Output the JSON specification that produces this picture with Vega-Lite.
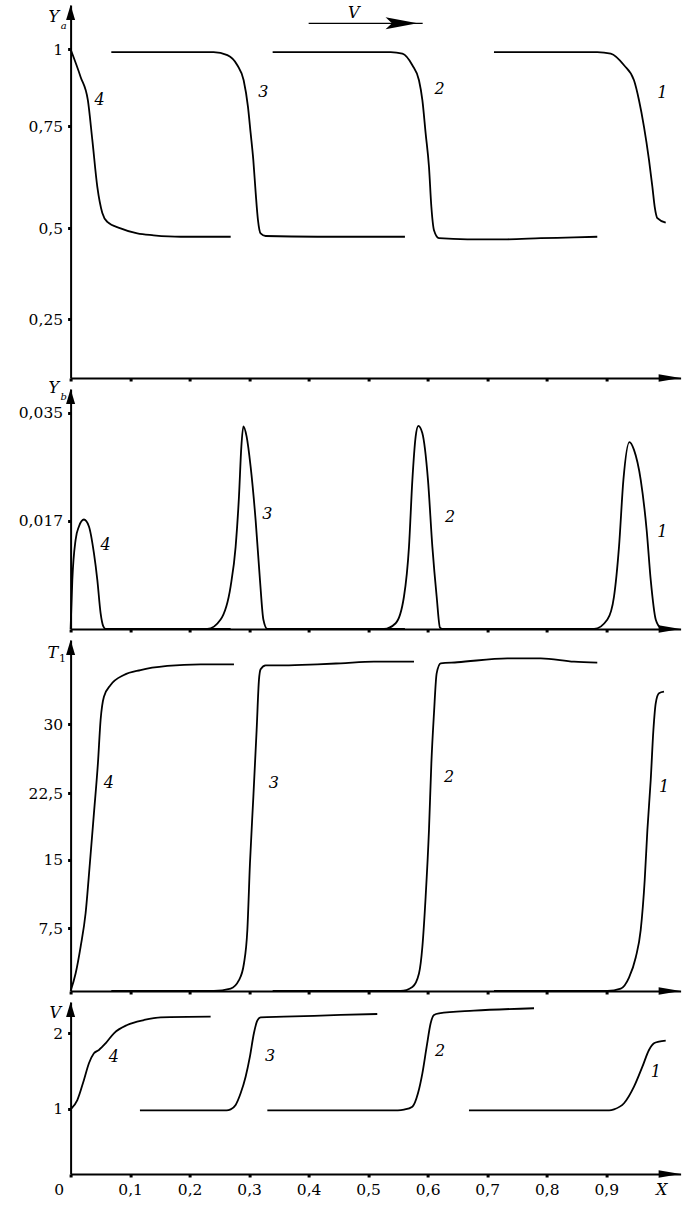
{
  "$schema": "https://vega.github.io/schema/vega-lite/v6.json",
  "background": "white",
  "autosize": {"type": "pad"},
  "padding": {"left": 17.6, "top": 5, "right": 7, "bottom": 9},
  "spacing": 11,
  "bounds": "flush",
  "config": {
    "view": {"stroke": null},
    "axis": {
      "domainColor": "black", "domainWidth": 2, "tickColor": "black", "tickWidth": 3, "tickSize": 3,
      "labelFont": "DejaVu Serif", "labelFontSize": 15.5, "labelColor": "black", "labelPadding": 5,
      "labelOverlap": false, "labelFlush": false, "labelBound": false, "grid": false,
      "titleFont": "DejaVu Serif", "titleFontStyle": "italic", "titleFontWeight": "normal", "titleFontSize": 16, "titleColor": "black"
    },
    "line": {"color": "black", "strokeWidth": 1.8, "interpolate": "monotone"}
  },
  "datasets": {
    "ya": [
      {"curve": "4", "x": 0, "y": 1.0}, {"curve": "4", "x": 0.0168, "y": 0.91}, {"curve": "4", "x": 0.029, "y": 0.834}, {"curve": "4", "x": 0.0365, "y": 0.716}, {"curve": "4", "x": 0.0449, "y": 0.601}, {"curve": "4", "x": 0.0533, "y": 0.537}, {"curve": "4", "x": 0.0617, "y": 0.515}, {"curve": "4", "x": 0.084, "y": 0.499}, {"curve": "4", "x": 0.112, "y": 0.485}, {"curve": "4", "x": 0.1395, "y": 0.48}, {"curve": "4", "x": 0.185, "y": 0.476}, {"curve": "4", "x": 0.269, "y": 0.476},
      {"curve": "3", "x": 0.0684, "y": 0.991}, {"curve": "3", "x": 0.2403, "y": 0.991}, {"curve": "3", "x": 0.2634, "y": 0.981}, {"curve": "3", "x": 0.2802, "y": 0.948}, {"curve": "3", "x": 0.2908, "y": 0.899}, {"curve": "3", "x": 0.298, "y": 0.813}, {"curve": "3", "x": 0.3025, "y": 0.733}, {"curve": "3", "x": 0.307, "y": 0.667}, {"curve": "3", "x": 0.311, "y": 0.586}, {"curve": "3", "x": 0.3148, "y": 0.52}, {"curve": "3", "x": 0.3193, "y": 0.485}, {"curve": "3", "x": 0.3277, "y": 0.478}, {"curve": "3", "x": 0.4146, "y": 0.476}, {"curve": "3", "x": 0.5618, "y": 0.476},
      {"curve": "2", "x": 0.3395, "y": 0.991}, {"curve": "2", "x": 0.5378, "y": 0.991}, {"curve": "2", "x": 0.5575, "y": 0.986}, {"curve": "2", "x": 0.5743, "y": 0.948}, {"curve": "2", "x": 0.5854, "y": 0.899}, {"curve": "2", "x": 0.5911, "y": 0.834}, {"curve": "2", "x": 0.5966, "y": 0.732}, {"curve": "2", "x": 0.6022, "y": 0.65}, {"curve": "2", "x": 0.6062, "y": 0.552}, {"curve": "2", "x": 0.6106, "y": 0.494}, {"curve": "2", "x": 0.619, "y": 0.472}, {"curve": "2", "x": 0.6666, "y": 0.469}, {"curve": "2", "x": 0.7339, "y": 0.469}, {"curve": "2", "x": 0.79, "y": 0.472}, {"curve": "2", "x": 0.846, "y": 0.474}, {"curve": "2", "x": 0.885, "y": 0.476},
      {"curve": "1", "x": 0.7114, "y": 0.991}, {"curve": "1", "x": 0.885, "y": 0.991}, {"curve": "1", "x": 0.9076, "y": 0.986}, {"curve": "1", "x": 0.93, "y": 0.948}, {"curve": "1", "x": 0.9467, "y": 0.899}, {"curve": "1", "x": 0.9551, "y": 0.834}, {"curve": "1", "x": 0.9635, "y": 0.748}, {"curve": "1", "x": 0.9719, "y": 0.667}, {"curve": "1", "x": 0.9776, "y": 0.601}, {"curve": "1", "x": 0.9815, "y": 0.552}, {"curve": "1", "x": 0.986, "y": 0.524}, {"curve": "1", "x": 1.0, "y": 0.513}
    ],
    "yb": [
      {"curve": "4", "x": 0, "y": 0}, {"curve": "4", "x": 0.0029, "y": 0.0077}, {"curve": "4", "x": 0.0084, "y": 0.014}, {"curve": "4", "x": 0.014, "y": 0.0161}, {"curve": "4", "x": 0.0224, "y": 0.0172}, {"curve": "4", "x": 0.0308, "y": 0.0161}, {"curve": "4", "x": 0.0392, "y": 0.0119}, {"curve": "4", "x": 0.0449, "y": 0.0077}, {"curve": "4", "x": 0.0504, "y": 0.0025}, {"curve": "4", "x": 0.055, "y": 0.0004}, {"curve": "4", "x": 0.0588, "y": 0}, {"curve": "4", "x": 0.269, "y": 0},
      {"curve": "3", "x": 0.0684, "y": 0}, {"curve": "3", "x": 0.2297, "y": 0}, {"curve": "3", "x": 0.2521, "y": 0.0015}, {"curve": "3", "x": 0.2689, "y": 0.0067}, {"curve": "3", "x": 0.2773, "y": 0.0129}, {"curve": "3", "x": 0.2829, "y": 0.021}, {"curve": "3", "x": 0.2869, "y": 0.0293}, {"curve": "3", "x": 0.2903, "y": 0.0327}, {"curve": "3", "x": 0.2958, "y": 0.031}, {"curve": "3", "x": 0.3025, "y": 0.026}, {"curve": "3", "x": 0.3109, "y": 0.0171}, {"curve": "3", "x": 0.3182, "y": 0.0077}, {"curve": "3", "x": 0.3239, "y": 0.0015}, {"curve": "3", "x": 0.3306, "y": 0}, {"curve": "3", "x": 0.5618, "y": 0},
      {"curve": "2", "x": 0.3395, "y": 0}, {"curve": "2", "x": 0.5266, "y": 0}, {"curve": "2", "x": 0.5462, "y": 0.0009}, {"curve": "2", "x": 0.5602, "y": 0.0051}, {"curve": "2", "x": 0.5686, "y": 0.0129}, {"curve": "2", "x": 0.5743, "y": 0.0238}, {"curve": "2", "x": 0.5798, "y": 0.031}, {"curve": "2", "x": 0.5843, "y": 0.0328}, {"curve": "2", "x": 0.591, "y": 0.0316}, {"curve": "2", "x": 0.6005, "y": 0.0238}, {"curve": "2", "x": 0.6079, "y": 0.0129}, {"curve": "2", "x": 0.6151, "y": 0.0051}, {"curve": "2", "x": 0.6207, "y": 0.0002}, {"curve": "2", "x": 0.6246, "y": 0}, {"curve": "2", "x": 0.885, "y": 0},
      {"curve": "1", "x": 0.7114, "y": 0}, {"curve": "1", "x": 0.8795, "y": 0}, {"curve": "1", "x": 0.902, "y": 0.0015}, {"curve": "1", "x": 0.9131, "y": 0.0051}, {"curve": "1", "x": 0.9215, "y": 0.0129}, {"curve": "1", "x": 0.9289, "y": 0.0238}, {"curve": "1", "x": 0.939, "y": 0.0301}, {"curve": "1", "x": 0.9467, "y": 0.0288}, {"curve": "1", "x": 0.958, "y": 0.0238}, {"curve": "1", "x": 0.968, "y": 0.0155}, {"curve": "1", "x": 0.9748, "y": 0.0077}, {"curve": "1", "x": 0.9832, "y": 0.0015}, {"curve": "1", "x": 0.9916, "y": 0.0002}, {"curve": "1", "x": 1.0, "y": 0}
    ],
    "t1": [
      {"curve": "4", "x": 0, "y": 0}, {"curve": "4", "x": 0.0084, "y": 2.09}, {"curve": "4", "x": 0.0168, "y": 5.29}, {"curve": "4", "x": 0.0252, "y": 9.15}, {"curve": "4", "x": 0.0324, "y": 14.64}, {"curve": "4", "x": 0.0392, "y": 20.25}, {"curve": "4", "x": 0.0459, "y": 25.76}, {"curve": "4", "x": 0.0504, "y": 30.47}, {"curve": "4", "x": 0.056, "y": 33.0}, {"curve": "4", "x": 0.0672, "y": 34.27}, {"curve": "4", "x": 0.0896, "y": 35.36}, {"curve": "4", "x": 0.1176, "y": 35.9}, {"curve": "4", "x": 0.1625, "y": 36.34}, {"curve": "4", "x": 0.2185, "y": 36.52}, {"curve": "4", "x": 0.2745, "y": 36.52},
      {"curve": "3", "x": 0.0684, "y": 0}, {"curve": "3", "x": 0.2408, "y": 0}, {"curve": "3", "x": 0.2689, "y": 0.29}, {"curve": "3", "x": 0.2829, "y": 1.29}, {"curve": "3", "x": 0.2913, "y": 3.29}, {"curve": "3", "x": 0.297, "y": 7.3}, {"curve": "3", "x": 0.3014, "y": 14.64}, {"curve": "3", "x": 0.3071, "y": 22.13}, {"curve": "3", "x": 0.3126, "y": 29.38}, {"curve": "3", "x": 0.3165, "y": 34.82}, {"curve": "3", "x": 0.3193, "y": 35.98}, {"curve": "3", "x": 0.3277, "y": 36.41}, {"curve": "3", "x": 0.3585, "y": 36.41}, {"curve": "3", "x": 0.4146, "y": 36.52}, {"curve": "3", "x": 0.4538, "y": 36.63}, {"curve": "3", "x": 0.5097, "y": 36.8}, {"curve": "3", "x": 0.577, "y": 36.8},
      {"curve": "2", "x": 0.3395, "y": 0}, {"curve": "2", "x": 0.5546, "y": 0}, {"curve": "2", "x": 0.5743, "y": 0.48}, {"curve": "2", "x": 0.5854, "y": 2.09}, {"curve": "2", "x": 0.5911, "y": 5.29}, {"curve": "2", "x": 0.5966, "y": 10.97}, {"curve": "2", "x": 0.6022, "y": 18.37}, {"curve": "2", "x": 0.6062, "y": 25.76}, {"curve": "2", "x": 0.6106, "y": 31.2}, {"curve": "2", "x": 0.6151, "y": 35.54}, {"curve": "2", "x": 0.6218, "y": 36.63}, {"curve": "2", "x": 0.6499, "y": 36.74}, {"curve": "2", "x": 0.7339, "y": 37.17}, {"curve": "2", "x": 0.79, "y": 37.17}, {"curve": "2", "x": 0.8459, "y": 36.8}, {"curve": "2", "x": 0.885, "y": 36.7},
      {"curve": "1", "x": 0.7114, "y": 0}, {"curve": "1", "x": 0.902, "y": 0}, {"curve": "1", "x": 0.9244, "y": 0.29}, {"curve": "1", "x": 0.9383, "y": 1.61}, {"curve": "1", "x": 0.9496, "y": 4.01}, {"curve": "1", "x": 0.958, "y": 7.3}, {"curve": "1", "x": 0.9647, "y": 12.8}, {"curve": "1", "x": 0.9692, "y": 18.37}, {"curve": "1", "x": 0.9748, "y": 23.95}, {"curve": "1", "x": 0.9793, "y": 29.38}, {"curve": "1", "x": 0.9832, "y": 32.28}, {"curve": "1", "x": 0.9887, "y": 33.37}, {"curve": "1", "x": 0.9971, "y": 33.54}
    ],
    "v": [
      {"curve": "4", "x": 0.0012, "y": 1.0}, {"curve": "4", "x": 0.0113, "y": 1.115}, {"curve": "4", "x": 0.0224, "y": 1.381}, {"curve": "4", "x": 0.0308, "y": 1.602}, {"curve": "4", "x": 0.0392, "y": 1.735}, {"curve": "4", "x": 0.0476, "y": 1.779}, {"curve": "4", "x": 0.0588, "y": 1.867}, {"curve": "4", "x": 0.0728, "y": 2.0}, {"curve": "4", "x": 0.0951, "y": 2.11}, {"curve": "4", "x": 0.1232, "y": 2.176}, {"curve": "4", "x": 0.1513, "y": 2.212}, {"curve": "4", "x": 0.2353, "y": 2.22},
      {"curve": "3", "x": 0.1165, "y": 0.975}, {"curve": "3", "x": 0.262, "y": 0.975}, {"curve": "3", "x": 0.2689, "y": 0.99}, {"curve": "3", "x": 0.2773, "y": 1.05}, {"curve": "3", "x": 0.2857, "y": 1.204}, {"curve": "3", "x": 0.2941, "y": 1.424}, {"curve": "3", "x": 0.3013, "y": 1.69}, {"curve": "3", "x": 0.308, "y": 2.0}, {"curve": "3", "x": 0.3137, "y": 2.167}, {"curve": "3", "x": 0.3193, "y": 2.212}, {"curve": "3", "x": 0.3585, "y": 2.22}, {"curve": "3", "x": 0.4538, "y": 2.243}, {"curve": "3", "x": 0.5153, "y": 2.256},
      {"curve": "2", "x": 0.3306, "y": 0.975}, {"curve": "2", "x": 0.55, "y": 0.975}, {"curve": "2", "x": 0.5602, "y": 0.985}, {"curve": "2", "x": 0.5743, "y": 1.027}, {"curve": "2", "x": 0.5837, "y": 1.204}, {"curve": "2", "x": 0.5911, "y": 1.469}, {"curve": "2", "x": 0.5983, "y": 1.822}, {"curve": "2", "x": 0.605, "y": 2.133}, {"curve": "2", "x": 0.6106, "y": 2.243}, {"curve": "2", "x": 0.619, "y": 2.265}, {"curve": "2", "x": 0.6776, "y": 2.3}, {"curve": "2", "x": 0.7787, "y": 2.332},
      {"curve": "1", "x": 0.6694, "y": 0.975}, {"curve": "1", "x": 0.905, "y": 0.975}, {"curve": "1", "x": 0.9131, "y": 0.99}, {"curve": "1", "x": 0.9299, "y": 1.072}, {"curve": "1", "x": 0.9467, "y": 1.292}, {"curve": "1", "x": 0.9608, "y": 1.557}, {"curve": "1", "x": 0.9719, "y": 1.778}, {"curve": "1", "x": 0.9803, "y": 1.867}, {"curve": "1", "x": 0.9887, "y": 1.889}, {"curve": "1", "x": 1.0, "y": 1.902}
    ],
    "lab": [
      {"panel": "ya", "label": "4", "x": 0.0487, "y": 0.834}, {"panel": "ya", "label": "3", "x": 0.3237, "y": 0.861}, {"panel": "ya", "label": "2", "x": 0.62, "y": 0.872}, {"panel": "ya", "label": "1", "x": 0.9943, "y": 0.856},
      {"panel": "yb", "label": "4", "x": 0.0588, "y": 0.0132}, {"panel": "yb", "label": "3", "x": 0.3306, "y": 0.0182}, {"panel": "yb", "label": "2", "x": 0.6375, "y": 0.0177}, {"panel": "yb", "label": "1", "x": 0.9943, "y": 0.0153},
      {"panel": "t1", "label": "4", "x": 0.0644, "y": 23.59}, {"panel": "t1", "label": "3", "x": 0.3417, "y": 23.59}, {"panel": "t1", "label": "2", "x": 0.6358, "y": 24.3}, {"panel": "t1", "label": "1", "x": 0.9971, "y": 23.2},
      {"panel": "v", "label": "4", "x": 0.0728, "y": 1.69}, {"panel": "v", "label": "3", "x": 0.335, "y": 1.7}, {"panel": "v", "label": "2", "x": 0.6207, "y": 1.77}, {"panel": "v", "label": "1", "x": 0.9832, "y": 1.49}
    ]
  },
  "vconcat": [
    {
      "width": 610, "height": 373,
      "layer": [
        {
          "data": {"name": "ya"},
          "mark": {"type": "line"},
          "encoding": {
            "x": {"field": "x", "type": "quantitative", "scale": {"domain": [0, 1.025], "nice": false, "zero": false},
                  "axis": {"values": [0, 0.1, 0.2, 0.3, 0.4, 0.5, 0.6, 0.7, 0.8, 0.9], "labels": false, "title": null}},
            "y": {"field": "y", "type": "quantitative",
                  "scale": {"domain": [0, 0.25, 0.5, 0.75, 1, 1.144], "range": [373, 314, 223, 121, 44.3, 0], "nice": false, "zero": false},
                  "axis": {"values": [0.25, 0.5, 0.75, 1], "labelExpr": "replace(toString(datum.value), '.', ',')",
                           "title": "Y", "titleAngle": 0, "titleAlign": "right", "titleBaseline": "alphabetic", "titleX": -12, "titleY": 16}},
            "detail": {"field": "curve"}
          }
        },
        {
          "data": {"name": "lab"},
          "transform": [{"filter": "datum.panel == 'ya'"}],
          "mark": {"type": "text", "font": "DejaVu Serif", "fontStyle": "italic", "fontSize": 16, "color": "black", "align": "center", "baseline": "middle"},
          "encoding": {"x": {"field": "x", "type": "quantitative"}, "y": {"field": "y", "type": "quantitative"}, "text": {"field": "label"}}
        },
        {
          "data": {"values": [{}]},
          "mark": {"type": "text", "text": "a", "font": "DejaVu Serif", "fontStyle": "italic", "fontSize": 10, "color": "black", "align": "center", "baseline": "alphabetic", "dx": -7, "dy": 24},
          "encoding": {"x": {"datum": 0, "type": "quantitative"}, "y": {"datum": 1.144, "type": "quantitative"}}
        },
        {
          "data": {"values": [{}]},
          "mark": {"type": "point", "shape": "M0,0L0.6,2L-0.6,2Z", "filled": true, "fill": "black", "stroke": null, "opacity": 1, "size": 225},
          "encoding": {"x": {"datum": 0, "type": "quantitative"}, "y": {"datum": 1.144, "type": "quantitative"}}
        },
        {
          "data": {"values": [{}]},
          "mark": {"type": "point", "shape": "M0,0L-2,-0.35L-2,0.35Z", "filled": true, "fill": "black", "stroke": null, "opacity": 1, "size": 484},
          "encoding": {"x": {"datum": 1.025, "type": "quantitative"}, "y": {"datum": 0, "type": "quantitative"}}
        },
        {
          "data": {"values": [{}]},
          "mark": {"type": "rule", "color": "black", "strokeWidth": 1.2},
          "encoding": {"x": {"datum": 0.4, "type": "quantitative"}, "x2": {"datum": 0.5916}, "y": {"datum": 1.0845, "type": "quantitative"}}
        },
        {
          "data": {"values": [{}]},
          "mark": {"type": "point", "shape": "M0,0L-2,-0.375L-1.6,0L-2,0.375Z", "filled": true, "fill": "black", "stroke": null, "opacity": 1, "size": 1024},
          "encoding": {"x": {"datum": 0.583, "type": "quantitative"}, "y": {"datum": 1.0845, "type": "quantitative"}}
        },
        {
          "data": {"values": [{}]},
          "mark": {"type": "text", "text": "V", "font": "DejaVu Serif", "fontStyle": "italic", "fontSize": 16, "color": "black", "align": "center", "baseline": "alphabetic"},
          "encoding": {"x": {"datum": 0.476, "type": "quantitative"}, "y": {"datum": 1.1016, "type": "quantitative"}}
        }
      ]
    },
    {
      "width": 610, "height": 240,
      "layer": [
        {
          "data": {"name": "yb"},
          "mark": {"type": "line"},
          "encoding": {
            "x": {"field": "x", "type": "quantitative", "scale": {"domain": [0, 1.025], "nice": false, "zero": false},
                  "axis": {"values": [0, 0.1, 0.2, 0.3, 0.4, 0.5, 0.6, 0.7, 0.8, 0.9], "labels": false, "title": null}},
            "y": {"field": "y", "type": "quantitative",
                  "scale": {"domain": [0, 0.017, 0.035, 0.03895], "range": [240, 131.7, 23.7, 0], "nice": false, "zero": false},
                  "axis": {"values": [0.017, 0.035], "labelExpr": "replace(toString(datum.value), '.', ',')",
                           "title": "Y", "titleAngle": 0, "titleAlign": "right", "titleBaseline": "alphabetic", "titleX": -12, "titleY": 3}},
            "detail": {"field": "curve"}
          }
        },
        {
          "data": {"name": "lab"},
          "transform": [{"filter": "datum.panel == 'yb'"}],
          "mark": {"type": "text", "font": "DejaVu Serif", "fontStyle": "italic", "fontSize": 16, "color": "black", "align": "center", "baseline": "middle"},
          "encoding": {"x": {"field": "x", "type": "quantitative"}, "y": {"field": "y", "type": "quantitative"}, "text": {"field": "label"}}
        },
        {
          "data": {"values": [{}]},
          "mark": {"type": "text", "text": "b", "font": "DejaVu Serif", "fontStyle": "italic", "fontSize": 10, "color": "black", "align": "center", "baseline": "alphabetic", "dx": -7, "dy": 11},
          "encoding": {"x": {"datum": 0, "type": "quantitative"}, "y": {"datum": 0.03895, "type": "quantitative"}}
        },
        {
          "data": {"values": [{}]},
          "mark": {"type": "point", "shape": "M0,0L0.6,2L-0.6,2Z", "filled": true, "fill": "black", "stroke": null, "opacity": 1, "size": 225},
          "encoding": {"x": {"datum": 0, "type": "quantitative"}, "y": {"datum": 0.03895, "type": "quantitative"}}
        },
        {
          "data": {"values": [{}]},
          "mark": {"type": "point", "shape": "M0,0L-2,-0.35L-2,0.35Z", "filled": true, "fill": "black", "stroke": null, "opacity": 1, "size": 484},
          "encoding": {"x": {"datum": 1.025, "type": "quantitative"}, "y": {"datum": 0, "type": "quantitative"}}
        }
      ]
    },
    {
      "width": 610, "height": 351,
      "layer": [
        {
          "data": {"name": "t1"},
          "mark": {"type": "line"},
          "encoding": {
            "x": {"field": "x", "type": "quantitative", "scale": {"domain": [0, 1.025], "nice": false, "zero": false},
                  "axis": {"values": [0, 0.1, 0.2, 0.3, 0.4, 0.5, 0.6, 0.7, 0.8, 0.9], "labels": false, "title": null}},
            "y": {"field": "y", "type": "quantitative",
                  "scale": {"domain": [0, 7.5, 15, 22.5, 30, 39.16], "range": [351, 288.3, 220, 153.3, 84.3, 0], "nice": false, "zero": false},
                  "axis": {"values": [7.5, 15, 22.5, 30], "labelExpr": "replace(toString(datum.value), '.', ',')",
                           "title": "T", "titleAngle": 0, "titleAlign": "right", "titleBaseline": "alphabetic", "titleX": -13, "titleY": 18}},
            "detail": {"field": "curve"}
          }
        },
        {
          "data": {"name": "lab"},
          "transform": [{"filter": "datum.panel == 't1'"}],
          "mark": {"type": "text", "font": "DejaVu Serif", "fontStyle": "italic", "fontSize": 16, "color": "black", "align": "center", "baseline": "middle"},
          "encoding": {"x": {"field": "x", "type": "quantitative"}, "y": {"field": "y", "type": "quantitative"}, "text": {"field": "label"}}
        },
        {
          "data": {"values": [{}]},
          "mark": {"type": "text", "text": "1", "font": "DejaVu Serif", "fontSize": 11, "color": "black", "align": "center", "baseline": "alphabetic", "dx": -8, "dy": 22},
          "encoding": {"x": {"datum": 0, "type": "quantitative"}, "y": {"datum": 39.16, "type": "quantitative"}}
        },
        {
          "data": {"values": [{}]},
          "mark": {"type": "point", "shape": "M0,0L0.6,2L-0.6,2Z", "filled": true, "fill": "black", "stroke": null, "opacity": 1, "size": 225},
          "encoding": {"x": {"datum": 0, "type": "quantitative"}, "y": {"datum": 39.16, "type": "quantitative"}}
        },
        {
          "data": {"values": [{}]},
          "mark": {"type": "point", "shape": "M0,0L-2,-0.35L-2,0.35Z", "filled": true, "fill": "black", "stroke": null, "opacity": 1, "size": 484},
          "encoding": {"x": {"datum": 1.025, "type": "quantitative"}, "y": {"datum": 0, "type": "quantitative"}}
        }
      ]
    },
    {
      "width": 610, "height": 172,
      "layer": [
        {
          "data": {"name": "v"},
          "mark": {"type": "line"},
          "encoding": {
            "x": {"field": "x", "type": "quantitative", "scale": {"domain": [0, 1.025], "nice": false, "zero": false},
                  "axis": {"values": [0, 0.1, 0.2, 0.3, 0.4, 0.5, 0.6, 0.7, 0.8, 0.9],
                           "labelExpr": "replace(toString(datum.value), '.', ',')",
                           "labelOffset": {"condition": {"test": "datum.value == 0", "value": -12}, "value": 0},
                           "labelBaseline": "alphabetic", "labelPadding": 18,
                           "title": "X", "titleX": 590.5, "titleY": 21, "titleAngle": 0, "titleAlign": "center", "titleBaseline": "alphabetic"}},
            "y": {"field": "y", "type": "quantitative",
                  "scale": {"domain": [0, 1, 2, 2.415], "range": [172, 106.7, 31.3, 0], "nice": false, "zero": false},
                  "axis": {"values": [1, 2], "labelExpr": "replace(toString(datum.value), '.', ',')",
                           "title": "V", "titleAngle": 0, "titleAlign": "right", "titleBaseline": "alphabetic", "titleX": -10, "titleY": 16}},
            "detail": {"field": "curve"}
          }
        },
        {
          "data": {"name": "lab"},
          "transform": [{"filter": "datum.panel == 'v'"}],
          "mark": {"type": "text", "font": "DejaVu Serif", "fontStyle": "italic", "fontSize": 16, "color": "black", "align": "center", "baseline": "middle"},
          "encoding": {"x": {"field": "x", "type": "quantitative"}, "y": {"field": "y", "type": "quantitative"}, "text": {"field": "label"}}
        },
        {
          "data": {"values": [{}]},
          "mark": {"type": "point", "shape": "M0,0L0.6,2L-0.6,2Z", "filled": true, "fill": "black", "stroke": null, "opacity": 1, "size": 225},
          "encoding": {"x": {"datum": 0, "type": "quantitative"}, "y": {"datum": 2.415, "type": "quantitative"}}
        },
        {
          "data": {"values": [{}]},
          "mark": {"type": "point", "shape": "M0,0L-2,-0.35L-2,0.35Z", "filled": true, "fill": "black", "stroke": null, "opacity": 1, "size": 484},
          "encoding": {"x": {"datum": 1.025, "type": "quantitative"}, "y": {"datum": 0, "type": "quantitative"}}
        }
      ]
    }
  ]
}
